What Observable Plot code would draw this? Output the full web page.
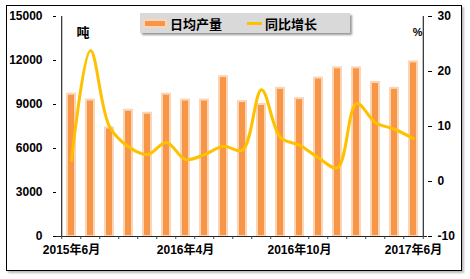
<!DOCTYPE html>
<html>
<head>
<meta charset="utf-8">
<script src="https://cdn.jsdelivr.net/npm/d3@7"></script>
<script src="https://cdn.jsdelivr.net/npm/@observablehq/plot@0.6"></script>
<style>
  html, body { margin: 0; padding: 0; background: #fff; }
  #wrap { position: relative; width: 470px; height: 279px; overflow: hidden;
          font-family: "Liberation Sans", Arial, "Noto Sans CJK SC", sans-serif; }
  #border { position: absolute; left: 6px; top: 5px; width: 454px; height: 264px;
            border: 1px solid #000; box-shadow: 2px 2px 2px #bbb; pointer-events: none; }
  #legend { position: absolute; left: 140px; top: 13px; width: 210px; height: 20px;
            background: #D9D9D9; box-shadow: 2px 2px 2px #999;
            font-size: 13px; font-weight: bold; color: #000;
            display: flex; align-items: center; }
  .sw-bar { display: inline-block; width: 20px; height: 5px; background: #F79646;
            border: 2px solid #FBD5B5; margin-left: 3px; margin-right: 3px; }
  .sw-line { display: inline-block; width: 15px; height: 3px; background: #FFC000;
             margin-left: 25px; margin-right: 3px; }
  #chart { position: absolute; left: 0; top: 0; }
</style>
</head>
<body>
<div id="wrap">
  <div id="chart"></div>
  <div id="border"></div>
  <div id="legend"><span class="sw-bar"></span><span>日均产量</span><span class="sw-line"></span><span>同比增长</span></div>
</div>
<script>
const months = ["2015年6月","2015年7月","2015年8月","2015年9月","2015年10月","2015年11月",
  "2016年4月","2016年5月","2016年6月","2016年7月","2016年8月","2016年9月","2016年10月",
  "2016年11月","2016年12月","2017年3月","2017年4月","2017年5月","2017年6月"];
const output = [9700,9300,7400,8600,8400,9700,9300,9300,10900,9200,9000,10100,9400,10800,11500,11500,10500,10100,11900];
const growth = [3.8,23.8,10.0,6.3,4.9,7.1,4.0,4.9,6.4,5.7,16.7,8.0,6.6,4.3,2.5,14.2,10.7,9.5,7.8];
const leftTicks = [0,3000,6000,9000,12000,15000];
const rightTicks = [-10,0,10,20,30];
const xLabels = ["2015年6月","2016年4月","2016年10月","2017年6月"];
const leftDomain = [0, 15000];
const rightDomain = [-10, 30];

const toLeft = v => (v - rightDomain[0]) / (rightDomain[1] - rightDomain[0]) * (leftDomain[1] - leftDomain[0]) + leftDomain[0];
const fromLeft = v => Math.round((v - leftDomain[0]) / (leftDomain[1] - leftDomain[0]) * (rightDomain[1] - rightDomain[0]) + rightDomain[0]);

const W = 470, H = 279, ML = 56, MR = 43, MT = 16, MB = 43;
const step = (W - ML - MR) / months.length;
const data = months.map((m, i) => ({m, v: output[i], g: growth[i]}));
const tickLen = 3 / (H - MT - MB) * (leftDomain[1] - leftDomain[0]);

const plot = Plot.plot({
  width: W, height: H,
  marginLeft: ML, marginRight: MR, marginTop: MT, marginBottom: MB,
  style: {fontFamily: '"Liberation Sans", Arial, "Noto Sans CJK SC", sans-serif', fontSize: "12px", fontWeight: "bold", color: "#000", background: "transparent", overflow: "visible"},
  x: {type: "band", domain: months, paddingInner: 0.6, paddingOuter: 0.3},
  y: {domain: leftDomain},
  marks: [
    Plot.barY(data, {x: "m", y: "v", fill: "#F79646", stroke: "#FBD5B5", strokeWidth: 2}),
    Plot.lineY(data, {x: "m", y: d => toLeft(d.g), stroke: "#FFC000", strokeWidth: 3, curve: "catmull-rom"}),
    Plot.ruleY([0], {stroke: "#222"}),
    Plot.ruleX([months[0]], {y1: leftDomain[0], y2: leftDomain[1], dx: -step / 2, stroke: "#000"}),
    Plot.ruleX([months[months.length - 1]], {y1: leftDomain[0], y2: leftDomain[1], dx: step / 2, stroke: "#000"}),
    Plot.ruleX(months, {y1: 0, y2: -tickLen, dx: -step / 2, stroke: "#2a4f5e", clip: false}),
    Plot.ruleX([months[months.length - 1]], {y1: 0, y2: -tickLen, dx: step / 2, stroke: "#2a4f5e"}),
    Plot.axisY({anchor: "left", ticks: leftTicks, tickSize: 3, tickPadding: 11, label: null, tickFormat: d => String(d)}),
    Plot.axisY({anchor: "right", ticks: rightTicks.map(toLeft), tickSize: 4, tickPadding: 6, label: null, tickFormat: v => String(fromLeft(v))}),
    Plot.axisX({ticks: xLabels, tickSize: 0, tickPadding: 9, label: null}),
    Plot.text(["吨"], {frameAnchor: "top-left", dx: 20, dy: 11, textAnchor: "start", fontSize: 13, fontWeight: "bold"}),
    Plot.text(["%"], {frameAnchor: "top-right", dx: -5, dy: 12, textAnchor: "end", fontSize: 11, fontWeight: "bold"})
  ]
});
document.getElementById("chart").appendChild(plot);
</script>
</body>
</html>
